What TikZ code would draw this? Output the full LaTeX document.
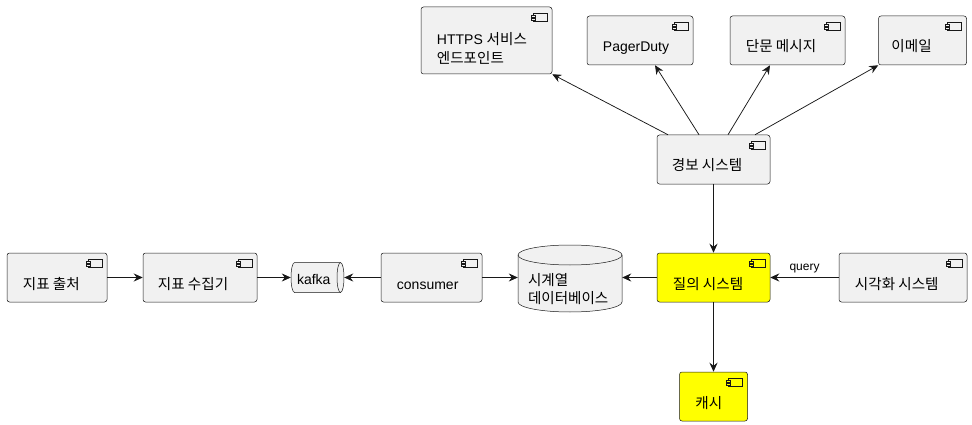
\documentclass[tikz,border=0pt]{standalone}
\usepackage{fontspec}
\setmainfont{Liberation Sans}
\newfontfamily\kr{Noto Sans CJK KR}[Scale=1.04]
\usetikzlibrary{arrows.meta}
\definecolor{compfill}{HTML}{F1F1F1}
\definecolor{edge}{HTML}{181818}
\definecolor{hl}{HTML}{FFFF00}
\tikzset{
  comp/.style={draw=edge, line width=0.5pt, fill=#1, rounded corners=2.5pt, inner sep=0pt,
    minimum height=49pt,
    path picture={
      \draw[edge, line width=0.5pt, sharp corners, fill=#1]
        ([xshift=-19pt,yshift=-6pt]path picture bounding box.north east) rectangle ++(14,8);
      \draw[edge, line width=0.5pt, sharp corners, fill=#1]
        ([xshift=-21pt,yshift=-8pt]path picture bounding box.north east) rectangle ++(4,2);
      \draw[edge, line width=0.5pt, sharp corners, fill=#1]
        ([xshift=-21pt,yshift=-11pt]path picture bounding box.north east) rectangle ++(4,2);
    }},
  comp/.default=compfill,
  lbl/.style={anchor=base west, inner sep=0pt, font=\fontsize{14}{18.5}\selectfont},
  krl/.style={lbl, font=\fontsize{14}{18.5}\selectfont\kr},
  anchorbox/.style={draw=none, inner sep=0pt},
  arr/.style={draw=edge, line width=0.75pt, -{Stealth[length=9pt,width=8pt,inset=3pt]}},
  shapeline/.style={draw=edge, line width=0.5pt, fill=compfill},
}
\begin{document}
\begin{tikzpicture}[x=1pt, y=-1pt]
\useasboundingbox (0,0) rectangle (972,425);

% components
\node[comp, minimum width=100pt] (src) at (57,277.5) {};
\node[comp, minimum width=114pt] (col) at (200,277.5) {};
\node[comp, minimum width=101pt] (cons) at (431.5,277.5) {};
\node[comp=hl, minimum width=113pt] (qry) at (713.5,277.5) {};
\node[comp, minimum width=128pt] (viz) at (903,277.5) {};
\node[comp=hl, minimum width=68pt] (cache) at (713.5,396.5) {};
\node[comp, minimum width=113pt] (alert) at (713.5,159.5) {};
\node[comp, minimum width=131pt, minimum height=67pt] (https) at (486.5,40.5) {};
\node[comp, minimum width=106pt] (pd) at (640,40.5) {};
\node[comp, minimum width=115pt] (sms) at (787.5,40.5) {};
\node[comp, minimum width=88pt] (mail) at (922.5,40.5) {};

% kafka queue
\node[anchorbox, minimum width=53pt, minimum height=30pt] (kafka) at (317.5,277.5) {};
\path[shapeline] (294.5,262.5) -- (340.5,262.5)
  arc[start angle=-90, end angle=90, x radius=3.5, y radius=15]
  -- (294.5,292.5)
  arc[start angle=90, end angle=270, x radius=3.5, y radius=15] -- cycle;
\draw[draw=edge, line width=0.5pt] (340.5,262.5)
  arc[start angle=-90, end angle=-270, x radius=3.5, y radius=15];

% database cylinder
\node[anchorbox, minimum width=104pt, minimum height=67pt] (db) at (570,278.5) {};
\path[shapeline] (518,255) -- (518,302)
  arc[start angle=180, end angle=0, x radius=52, y radius=10]
  -- (622,255)
  arc[start angle=0, end angle=-180, x radius=52, y radius=10] -- cycle;
\draw[draw=edge, line width=0.5pt] (518,255)
  arc[start angle=180, end angle=0, x radius=52, y radius=10];

% labels
\node[krl] (src-t) at ([xshift=16pt,yshift=-11.5pt]src.west) {지표 출처};
\node[krl] (col-t) at ([xshift=15pt,yshift=-11.5pt]col.west) {지표 수집기};
\node[lbl] (kafka-t) at ([xshift=6pt,yshift=-6.5pt]kafka.west) {kafka};
\node[lbl] (cons-t) at ([xshift=16pt,yshift=-11.5pt]cons.west) {consumer};
\node[lbl] (db-t) at ([xshift=10pt,yshift=-6.5pt]db.west)
  {\kr\begin{tabular}[t]{@{}l@{}}시계열\\데이터베이스\end{tabular}};
\node[krl] (qry-t) at ([xshift=16pt,yshift=-11.5pt]qry.west) {질의 시스템};
\node[krl] (viz-t) at ([xshift=16pt,yshift=-11.5pt]viz.west) {시각화 시스템};
\node[krl] (cache-t) at ([xshift=16pt,yshift=-11.5pt]cache.west) {캐시};
\node[krl] (alert-t) at ([xshift=15pt,yshift=-11.5pt]alert.west) {경보 시스템};
\node[lbl] (https-t) at ([xshift=16pt,yshift=-4.5pt]https.west)
  {\begin{tabular}[t]{@{}l@{}}HTTPS {\kr 서비스}\\{\kr 엔드포인트}\end{tabular}};
\node[lbl] (pd-t) at ([xshift=16pt,yshift=-11.5pt]pd.west) {PagerDuty};
\node[krl] (sms-t) at ([xshift=16pt,yshift=-11.5pt]sms.west) {단문 메시지};
\node[krl] (mail-t) at ([xshift=13pt,yshift=-11.5pt]mail.west) {이메일};

% connectors
\draw[arr] (src.east) -- (col.west);
\draw[arr] (col.east) -- (kafka.west);
\draw[arr] (cons.west) -- (kafka.east);
\draw[arr] (cons.east) -- (cons.east -| db.west);
\draw[arr] (qry.west) -- (qry.west -| db.east);
\draw[arr] (viz.west) -- node[midway, above, inner sep=0pt, yshift=4.5pt, font=\fontsize{12}{14}\selectfont] (qlabel) {query} (qry.east);
\draw[arr] (alert.south) -- (qry.north);
\draw[arr] (qry.south) -- (cache.north);
\draw[arr] ([xshift=-45.5pt]alert.north) -- (https.south east);
\draw[arr] ([xshift=-14.5pt]alert.north) -- ([xshift=15pt]pd.south);
\draw[arr] ([xshift=14.5pt]alert.north) -- ([xshift=-17.5pt]sms.south);
\draw[arr] ([xshift=41.5pt]alert.north) -- (mail.south west);
\end{tikzpicture}
\end{document}
